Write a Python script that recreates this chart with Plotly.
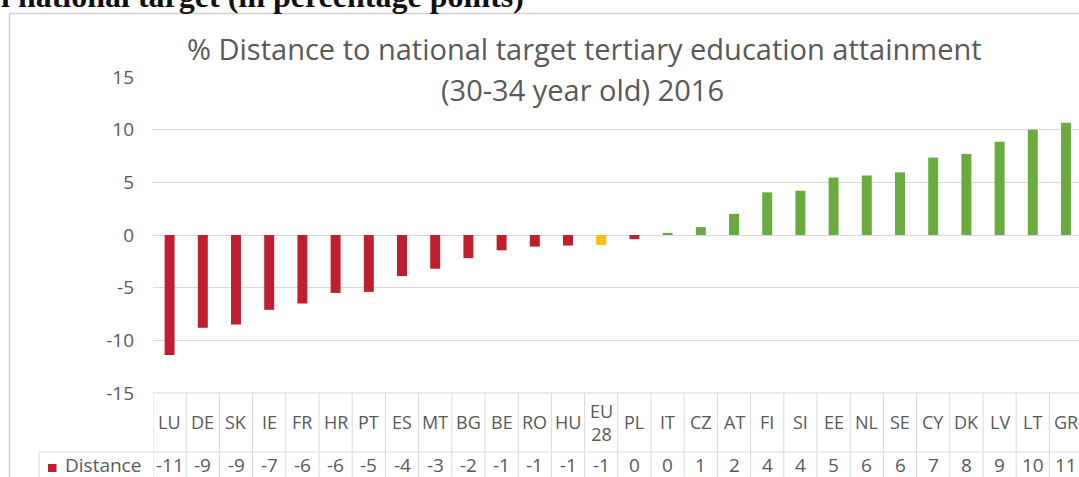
import plotly.graph_objects as go

# ---- data ----
categories = ["LU", "DE", "SK", "IE", "FR", "HR", "PT", "ES", "MT", "BG", "BE", "RO", "HU",
              "EU28", "PL", "IT", "CZ", "AT", "FI", "SI", "EE", "NL", "SE", "CY", "DK", "LV", "LT", "GR"]
category_labels = ["LU", "DE", "SK", "IE", "FR", "HR", "PT", "ES", "MT", "BG", "BE", "RO", "HU",
                   "EU<br>28", "PL", "IT", "CZ", "AT", "FI", "SI", "EE", "NL", "SE", "CY", "DK", "LV", "LT", "GR"]
distance = [-11.4, -8.8, -8.5, -7.1, -6.5, -5.5, -5.4, -3.9, -3.2, -2.2, -1.45, -1.1, -1.0,
            -0.95, -0.4, 0.2, 0.75, 2.0, 4.05, 4.2, 5.45, 5.65, 5.95, 7.35, 7.7, 8.85, 10.0, 10.65]
table_values = ["-11", "-9", "-9", "-7", "-6", "-6", "-5", "-4", "-3", "-2", "-1", "-1", "-1",
                "-1", "0", "0", "1", "2", "4", "4", "5", "6", "6", "7", "8", "9", "10", "11"]
bar_colors = ["#be1e2d"] * 13 + ["#ffc000"] + ["#be1e2d"] + ["#6aab3f"] * 13
y_ticks = [-15, -10, -5, 0, 5, 10, 15]

title_line1 = "% Distance to national target tertiary education attainment"
title_line2 = "(30-34 year old) 2016"
heading = "l national target (in percentage points)"
series_name = "Distance"

# ---- layout geometry (pixels) ----
W, H = 1079, 477
L, R, T, B = 153, 0, 77, 84
PW, PH = W - L - R, H - T - B
COL = 33.2  # px per category


def px_x(px):
    return (px - L) / PW


def px_y(py):
    return (H - B - py) / PH


TEXT = "#595959"
GRID = "#d9d9d9"
FONT = "Open Sans"

fig = go.Figure()
fig.add_trace(go.Bar(x=categories, y=distance, marker=dict(color=bar_colors, line=dict(width=0)),
                     width=0.3, name=series_name, showlegend=False))

n = len(categories)
shapes = []
# table vertical lines at category boundaries
for i in range(n + 1):
    shapes.append(dict(type="line", xref="x", yref="paper", x0=i - 0.5, x1=i - 0.5,
                       y0=px_y(393), y1=px_y(480), line=dict(color=GRID, width=1), layer="below"))
# table horizontal lines
shapes.append(dict(type="line", xref="paper", yref="paper", x0=px_x(152.5), x1=px_x(1085),
                   y0=px_y(393), y1=px_y(393), line=dict(color=GRID, width=1)))
shapes.append(dict(type="line", xref="paper", yref="paper", x0=px_x(39), x1=px_x(1085),
                   y0=px_y(452), y1=px_y(452), line=dict(color=GRID, width=1)))
shapes.append(dict(type="line", xref="paper", yref="paper", x0=px_x(39), x1=px_x(39),
                   y0=px_y(452), y1=px_y(480), line=dict(color=GRID, width=1)))
# legend key
shapes.append(dict(type="rect", xref="paper", yref="paper", x0=px_x(48), x1=px_x(56.5),
                   y0=px_y(464), y1=px_y(472), fillcolor="#be1e2d", line=dict(width=0)))
# chart frame
shapes.append(dict(type="line", xref="paper", yref="paper", x0=px_x(9.5), x1=px_x(9.5),
                   y0=px_y(13.5), y1=px_y(480), line=dict(color="#d0d0d0", width=1.5)))
shapes.append(dict(type="line", xref="paper", yref="paper", x0=px_x(9.5), x1=px_x(1085),
                   y0=px_y(13.5), y1=px_y(13.5), line=dict(color="#d0d0d0", width=1.5)))

annotations = []
for cat, lab, val in zip(categories, category_labels, table_values):
    annotations.append(dict(x=cat, xref="x", yref="paper", y=px_y(422), text=lab, showarrow=False,
                            xanchor="center", yanchor="middle",
                            font=dict(family=FONT, size=18, color=TEXT)))
    annotations.append(dict(x=cat, xref="x", yref="paper", y=px_y(465), text=val, showarrow=False,
                            xanchor="center", yanchor="middle",
                            font=dict(family=FONT, size=19, color=TEXT)))
annotations.append(dict(xref="paper", yref="paper", x=px_x(63), y=px_y(465), text=series_name,
                        showarrow=False, xanchor="left", yanchor="middle",
                        font=dict(family=FONT, size=19, color=TEXT)))
annotations.append(dict(xref="paper", yref="paper", x=px_x(584), y=px_y(49), text=title_line1,
                        showarrow=False, xanchor="center", yanchor="middle",
                        font=dict(family=FONT, size=29, color=TEXT)))
annotations.append(dict(xref="paper", yref="paper", x=px_x(582), y=px_y(89), text=title_line2,
                        showarrow=False, xanchor="center", yanchor="middle",
                        font=dict(family=FONT, size=29, color=TEXT)))
annotations.append(dict(xref="paper", yref="paper", x=px_x(-1), y=px_y(-4), text="<b>" + heading + "</b>",
                        showarrow=False, xanchor="left", yanchor="middle",
                        font=dict(family="Liberation Serif", size=32, color="#111111")))

fig.update_layout(
    width=W, height=H,
    margin=dict(l=L, r=R, t=T, b=B, pad=0),
    paper_bgcolor="white", plot_bgcolor="white",
    bargap=0.7,
    shapes=shapes, annotations=annotations,
    xaxis=dict(range=[-0.5, -0.5 + PW / COL], showticklabels=False, showgrid=False,
               zeroline=False, showline=False, ticks="", automargin=False, fixedrange=True),
    yaxis=dict(range=[-15, 15], tickvals=y_ticks, ticktext=[str(v) for v in y_ticks],
               showgrid=True, gridcolor=GRID, gridwidth=1, zeroline=True, zerolinecolor=GRID,
               zerolinewidth=1, showline=False, ticks="", ticklabelstandoff=18,
               tickfont=dict(family=FONT, size=19, color=TEXT), automargin=False, fixedrange=True),
    showlegend=False,
)

fig.write_html("out.html", config={"displayModeBar": False},
               post_script="document.body.style.margin='0';document.body.style.overflow='hidden';")
